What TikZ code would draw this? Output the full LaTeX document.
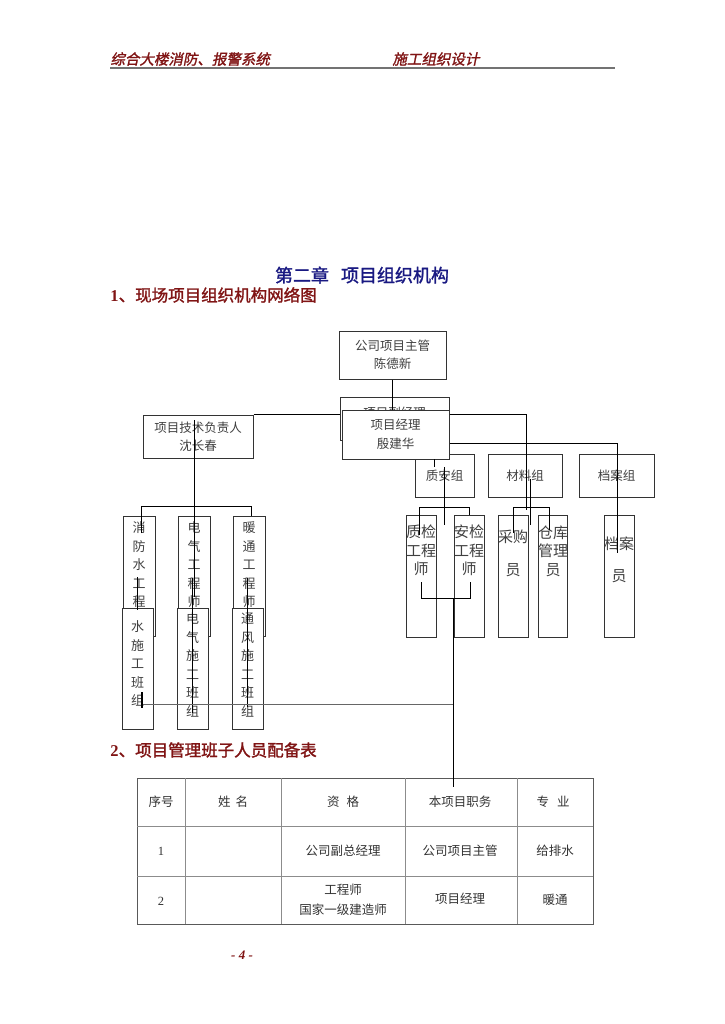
\documentclass[tikz,border=0pt]{standalone}
\usepackage{fontspec}
\setmainfont{Liberation Serif}
\newfontfamily\cjk{Noto Sans CJK SC}
\newfontfamily\cjkbf[FakeBold=1.5]{Noto Sans CJK SC}
\newfontfamily\cjkit[FakeSlant=0.2,FakeBold=1.5]{Noto Sans CJK SC}
\usetikzlibrary{positioning}
\definecolor{hdred}{RGB}{128,20,20}
\definecolor{titleblue}{RGB}{25,25,130}

\begin{document}
\begin{tikzpicture}[x=1pt,y=-1pt,line width=0.9pt,
    box/.style={draw=black!80,line width=1pt,fill=white,inner sep=0pt,align=center,
      text=black!75,font=\cjk\fontsize{12.5}{18}\selectfont},
    grp/.style={box,minimum width=59pt,minimum height=43pt},
    tallr/.style={box,minimum width=30pt,minimum height=122pt},
    talll/.style={box,minimum width=32pt,minimum height=120pt},
    team/.style={box,minimum width=31pt,minimum height=121pt},
    rt/.style={inner sep=0pt,align=center,text=black!75,font=\cjk\fontsize{15}{18.5}\selectfont},
    ct/.style={inner sep=0pt,align=center,text=black!75,font=\cjk\fontsize{13}{18.5}\selectfont},
    cell/.style={inner sep=0pt,align=center,text=black!80,font=\cjk\fontsize{12.5}{20}\selectfont},
    head/.style={anchor=west,inner sep=0pt,text=hdred}]
  \fill[white] (0,0) rectangle (724,1024);
  \useasboundingbox (0,0) rectangle (724,1024);

  % page header
  \node[head,font=\cjkit\fontsize{14.5}{16}\selectfont] (hleft) at (110,59) {综合大楼消防、报警系统};
  \node[head,font=\cjkit\fontsize{14.5}{16}\selectfont] (hright) at (392,59) {施工组织设计};
  \draw[black!55,line width=2pt] (110,68) -- (615,68);

  \node[inner sep=0pt,text=titleblue,font=\cjkbf\fontsize{18}{20}\selectfont] (title) at (362,275)
    {第二章\hspace{12pt}项目组织机构};
  \node[head,font=\cjkbf\fontsize{16.5}{18}\selectfont] (sec1) at (110,295)
    {{\rmfamily\bfseries 1}、现场项目组织机构网络图};

  % top of the chart
  \node[box,minimum width=107pt,minimum height=48pt] (zhuguan) at (392.5,355) {公司项目主管\\陈德新};
  \node[box,minimum width=109pt,minimum height=43pt] (fujingli) at (394.5,418.5) {};
  \node[inner sep=0pt,text=black!75,font=\cjk\fontsize{12.5}{18}\selectfont] at (394.5,413) {项目副经理};
  \draw (zhuguan.south) -- ++(0,31);
  \node[grp] (zhian) at (444.5,475.5) {质安组};
  \node[box,minimum width=107pt,minimum height=49pt] (jingli) at (395.5,434.5) {项目经理\\[1pt]殷建华};
  \node[box,minimum width=110pt,minimum height=43pt] (jishu) at (198,436.5) {项目技术负责人\\沈长春};
  \node[grp,minimum width=74pt] (cailiao) at (525,475.5) {材料组};
  \node[grp,minimum width=75pt] (dangan) at (616.5,475.5) {档案组};

  % right columns
  \node[tallr] (zhijian) at (421,576) {};
  \node[tallr] (anjian) at (469,576) {};
  \node[tallr] (caigou) at (513,576) {};
  \node[tallr,minimum width=29pt] (cangku) at (552.5,576) {};
  \node[tallr] (danganyuan) at (619,576) {};
  \node[rt] at (421,550.5) {质检\\工程\\师};
  \node[rt] at (469,550.5) {安检\\工程\\师};
  \node[rt] at (513,553.5) {采购\\[14.5pt]员};
  \node[rt] at (553,551) {仓库\\管理\\员};
  \node[rt] at (619,560) {档案\\[13.5pt]员};

  % left columns, teams laid over them
  \node[talll] (xiaofang) at (139,576) {};
  \node[talll] (dianqi) at (194,576) {};
  \node[talll] (nuantong) at (249,576) {};
  \node[ct] at (139,565) {消\\防\\水\\工\\程};
  \node[ct] at (194,565) {电\\气\\工\\程\\师};
  \node[ct] at (249,565) {暖\\通\\工\\程\\师};
  \node[team] (shuiban) at (137.5,668.5) {};
  \node[team] (dianban) at (192.5,668.5) {};
  \node[team] (tongban) at (247.5,668.5) {};
  \node[ct] at (137.5,663.5) {水\\施\\工\\班\\组};
  \node[ct] at (192.5,665) {电\\气\\施\\工\\班\\组};
  \node[ct] at (247.5,665) {通\\风\\施\\工\\班\\组};

  % connectors
  \draw (jishu.north east) -- (fujingli.west |- jishu.north);
  \draw (jingli.east |- jishu.north) -| (526,510);
  \draw (jingli.east |- 0,443) -| (617.5,553);
  \draw (434,459) -- (434,467);
  \draw (444.5,467) -- (444.5,525);
  \draw (419,535) |- (469,507) -- (469,515);
  \draw (421,582) |- (470,598) -- (470,582);
  \draw (530.5,479) -- (530.5,525);
  \draw (513,533) |- (549,507) -- (549,530);
  \draw (194,420) -- (194,597);
  \draw (141,533) |- (251,506) -- (251,516);
  \draw (137,577) -- (137,610);
  \draw (192,578) -- (192,713);
  \draw (247,578) -- (247,707);
  \draw[line width=1.4pt] (142,692) -- (142,708);
  \draw[black!60] (143,704) -- (453,704);

  \node[head,font=\cjkbf\fontsize{16.5}{18}\selectfont] (sec2) at (110,750)
    {{\rmfamily\bfseries 2}、项目管理班子人员配备表};

  % staff table
  \draw[black!65] (137,778) rectangle (593,924);
  \foreach \y in {826,876} \draw[black!45] (137,\y) -- (593,\y);
  \foreach \x in {185,281,405,517} \draw[black!45] (\x,778) -- (\x,924);
  \draw (453,598) -- (453,787);
  \node[cell] (c11) at (161,802) {序号};
  \node[cell] (c12) at (233,802) {姓\hspace{5pt}名};
  \node[cell] (c13) at (343,802) {资\hspace{7pt}格};
  \node[cell] (c14) at (460,802) {本项目职务};
  \node[cell] (c15) at (553,802) {专\hspace{8pt}业};
  \node[cell,font=\rmfamily\fontsize{12.5}{14}\selectfont] (c21) at (161,851) {1};
  \node[cell] (c23) at (343,851) {公司副总经理};
  \node[cell] (c24) at (460,851) {公司项目主管};
  \node[cell] (c25) at (555,851) {给排水};
  \node[cell,font=\rmfamily\fontsize{12.5}{14}\selectfont] (c31) at (161,901) {2};
  \node[cell] (c33) at (343,900) {工程师\\国家一级建造师};
  \node[cell] (c34) at (460,899) {项目经理};
  \node[cell] (c35) at (555,900) {暖通};

  \node[inner sep=0pt,text=hdred,font=\rmfamily\bfseries\itshape\fontsize{13}{15}\selectfont] (page) at (242,955) {- 4 -};
\end{tikzpicture}
\end{document}
